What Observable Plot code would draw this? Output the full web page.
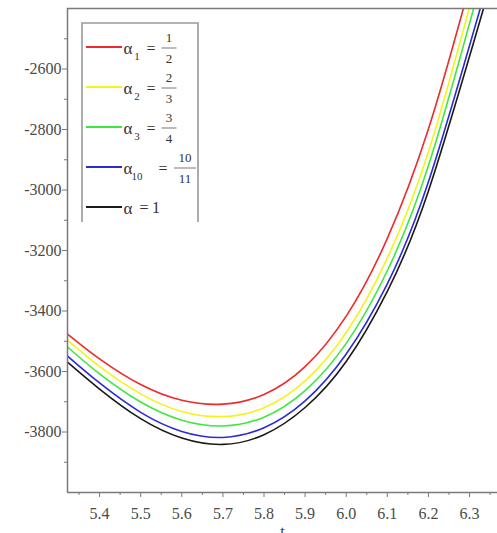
<!DOCTYPE html>
<html>
<head>
<meta charset="utf-8">
<script src="https://cdn.jsdelivr.net/npm/d3@7"></script>
<script src="https://cdn.jsdelivr.net/npm/@observablehq/plot@0.6"></script>
<style>
  html, body { margin: 0; padding: 0; background: #fff; }
  #chart { position: relative; width: 497px; height: 533px; overflow: hidden; }
  #chart svg { display: block; }
</style>
</head>
<body>
<div id="chart"></div>
<script>
// Sampled curves: time t against value for each fractional order
const tRed    = [5.322, 5.4, 5.5, 5.6, 5.7, 5.8, 5.9, 6.0, 6.1, 6.2, 6.285];
const vRed    = [-3476, -3558, -3643, -3695, -3708, -3676, -3584, -3417, -3160, -2798, -2400];

const tYellow = [5.322, 5.4, 5.5, 5.6, 5.7, 5.8, 5.9, 6.0, 6.1, 6.2, 6.299];
const vYellow = [-3496, -3583, -3674, -3732, -3749, -3720, -3631, -3471, -3225, -2874, -2400];

const tGreen  = [5.322, 5.4, 5.5, 5.6, 5.7, 5.8, 5.9, 6.0, 6.1, 6.2, 6.310];
const vGreen  = [-3519, -3608, -3701, -3761, -3780, -3751, -3663, -3507, -3267, -2920, -2400];

const tBlue   = [5.322, 5.4, 5.5, 5.6, 5.7, 5.8, 5.9, 6.0, 6.1, 6.2, 6.326];
const vBlue   = [-3549, -3638, -3735, -3798, -3818, -3786, -3697, -3542, -3310, -2973, -2400];

const tBlack  = [5.322, 5.4, 5.5, 5.6, 5.7, 5.8, 5.9, 6.0, 6.1, 6.2, 6.334];
const vBlack  = [-3569, -3658, -3756, -3820, -3841, -3809, -3719, -3567, -3335, -3003, -2400];

const seriesT = [tRed, tYellow, tGreen, tBlue, tBlack];
const seriesV = [vRed, vYellow, vGreen, vBlue, vBlack];
const seriesColors = ["#ee2a2a", "#f4f41c", "#3ee83e", "#2b2bd6", "#1a1a1a"];

// Legend text: α_sub = num/den
const legendSubs = ["1", "2", "3", "10", ""];
const legendNums = ["1", "2", "3", "10", "1"];
const legendDens = ["2", "3", "4", "11", ""];

// Axis ticks
const xMajor = [5.4, 5.5, 5.6, 5.7, 5.8, 5.9, 6.0, 6.1, 6.2, 6.3];
const xMinor = [5.35, 5.45, 5.55, 5.65, 5.75, 5.85, 5.95, 6.05, 6.15, 6.25, 6.35];
const yMajor = [-3800, -3600, -3400, -3200, -3000, -2800, -2600];
const yMinor = [-3900, -3700, -3500, -3300, -3100, -2900, -2700, -2500];
const xDomain = [5.322, 6.368];
const yDomain = [-4000, -2400];

const rows = seriesT.map((ts, i) => ts.map((t, j) => ({t, v: seriesV[i][j]})));

const axisColor = "#7a7a7a";

const chart = Plot.plot({
  width: 497,
  height: 533,
  marginLeft: 67,
  marginRight: 0,
  marginTop: 8,
  marginBottom: 41,
  x: {domain: xDomain, label: null},
  y: {domain: yDomain, label: null},
  style: {fontFamily: "'Liberation Serif', 'DejaVu Serif', serif", fontSize: "16px", color: "#4a4a4a", background: "#fff"},
  marks: [
    Plot.axisY(yMinor, {tickSize: 3, tickFormat: () => "", stroke: axisColor, label: null}),
    Plot.axisY(yMajor, {tickSize: 5, tickPadding: 1, tickFormat: d => String(d), stroke: axisColor, label: null}),
    Plot.axisX(xMinor, {tickSize: 3, tickFormat: () => "", stroke: axisColor, label: null}),
    Plot.axisX(xMajor, {tickSize: 5, tickPadding: 10, tickFormat: d3.format(".1f"), stroke: axisColor, label: null}),
    ...rows.map((r, i) => Plot.line(r, {x: "t", y: "v", stroke: seriesColors[i], strokeWidth: 1.6, curve: "natural", clip: true})),
    Plot.ruleX([xDomain[0]], {stroke: axisColor, strokeWidth: 1.5}),
    Plot.ruleY([yDomain[0]], {stroke: axisColor, strokeWidth: 1.5}),
    Plot.ruleY([yDomain[1]], {stroke: axisColor, strokeWidth: 1.5}),
    Plot.text(["t"], {frameAnchor: "bottom", dy: 44, lineAnchor: "bottom", fontSize: 16, fill: "#444"})
  ]
});

document.getElementById("chart").appendChild(chart);

// Legend box in the upper-left corner of the plot area
const svg = d3.select(chart);
const lg = svg.append("g").attr("font-family", "'Liberation Serif', 'DejaVu Serif', serif").attr("fill", "#333");
lg.append("rect").attr("x", 82).attr("y", 23).attr("width", 116).attr("height", 199).attr("fill", "#fff");
lg.append("path")
  .attr("d", "M82,222V23H198V222")
  .attr("fill", "none").attr("stroke", "#9a9a9a").attr("stroke-width", 1.6);

seriesColors.forEach((c, i) => {
  const y0 = 47 + 40 * i;
  lg.append("line").attr("x1", 86).attr("x2", 122).attr("y1", y0).attr("y2", y0)
    .attr("stroke", c).attr("stroke-width", 2);
  lg.append("text").attr("x", 128).attr("y", y0 + 7).attr("font-size", 17).text("α");
  const sub = legendSubs[i];
  if (sub) {
    lg.append("text").attr("x", 137).attr("y", y0 + 13).attr("font-size", 11).text(sub);
    const eqX = 139 + 12 * sub.length;
    lg.append("text").attr("x", eqX).attr("y", y0 + 7).attr("font-size", 16).attr("text-anchor", "middle").text("=");
    const fx = eqX + 14 + 4 * legendNums[i].length;
    const hw = 4 + 3.5 * legendNums[i].length;
    lg.append("text").attr("x", fx).attr("y", y0 - 5).attr("font-size", 13).attr("text-anchor", "middle").text(legendNums[i]);
    lg.append("line").attr("x1", fx - hw).attr("x2", fx + hw).attr("y1", y0 + 1).attr("y2", y0 + 1)
      .attr("stroke", "#555").attr("stroke-width", 0.8);
    lg.append("text").attr("x", fx).attr("y", y0 + 16).attr("font-size", 13).attr("text-anchor", "middle").text(legendDens[i]);
  } else {
    lg.append("text").attr("x", 144).attr("y", y0 + 6).attr("font-size", 16).attr("text-anchor", "middle").text("=");
    lg.append("text").attr("x", 156).attr("y", y0 + 6).attr("font-size", 16).attr("text-anchor", "middle").text(legendNums[i]);
  }
});
</script>
</body>
</html>
